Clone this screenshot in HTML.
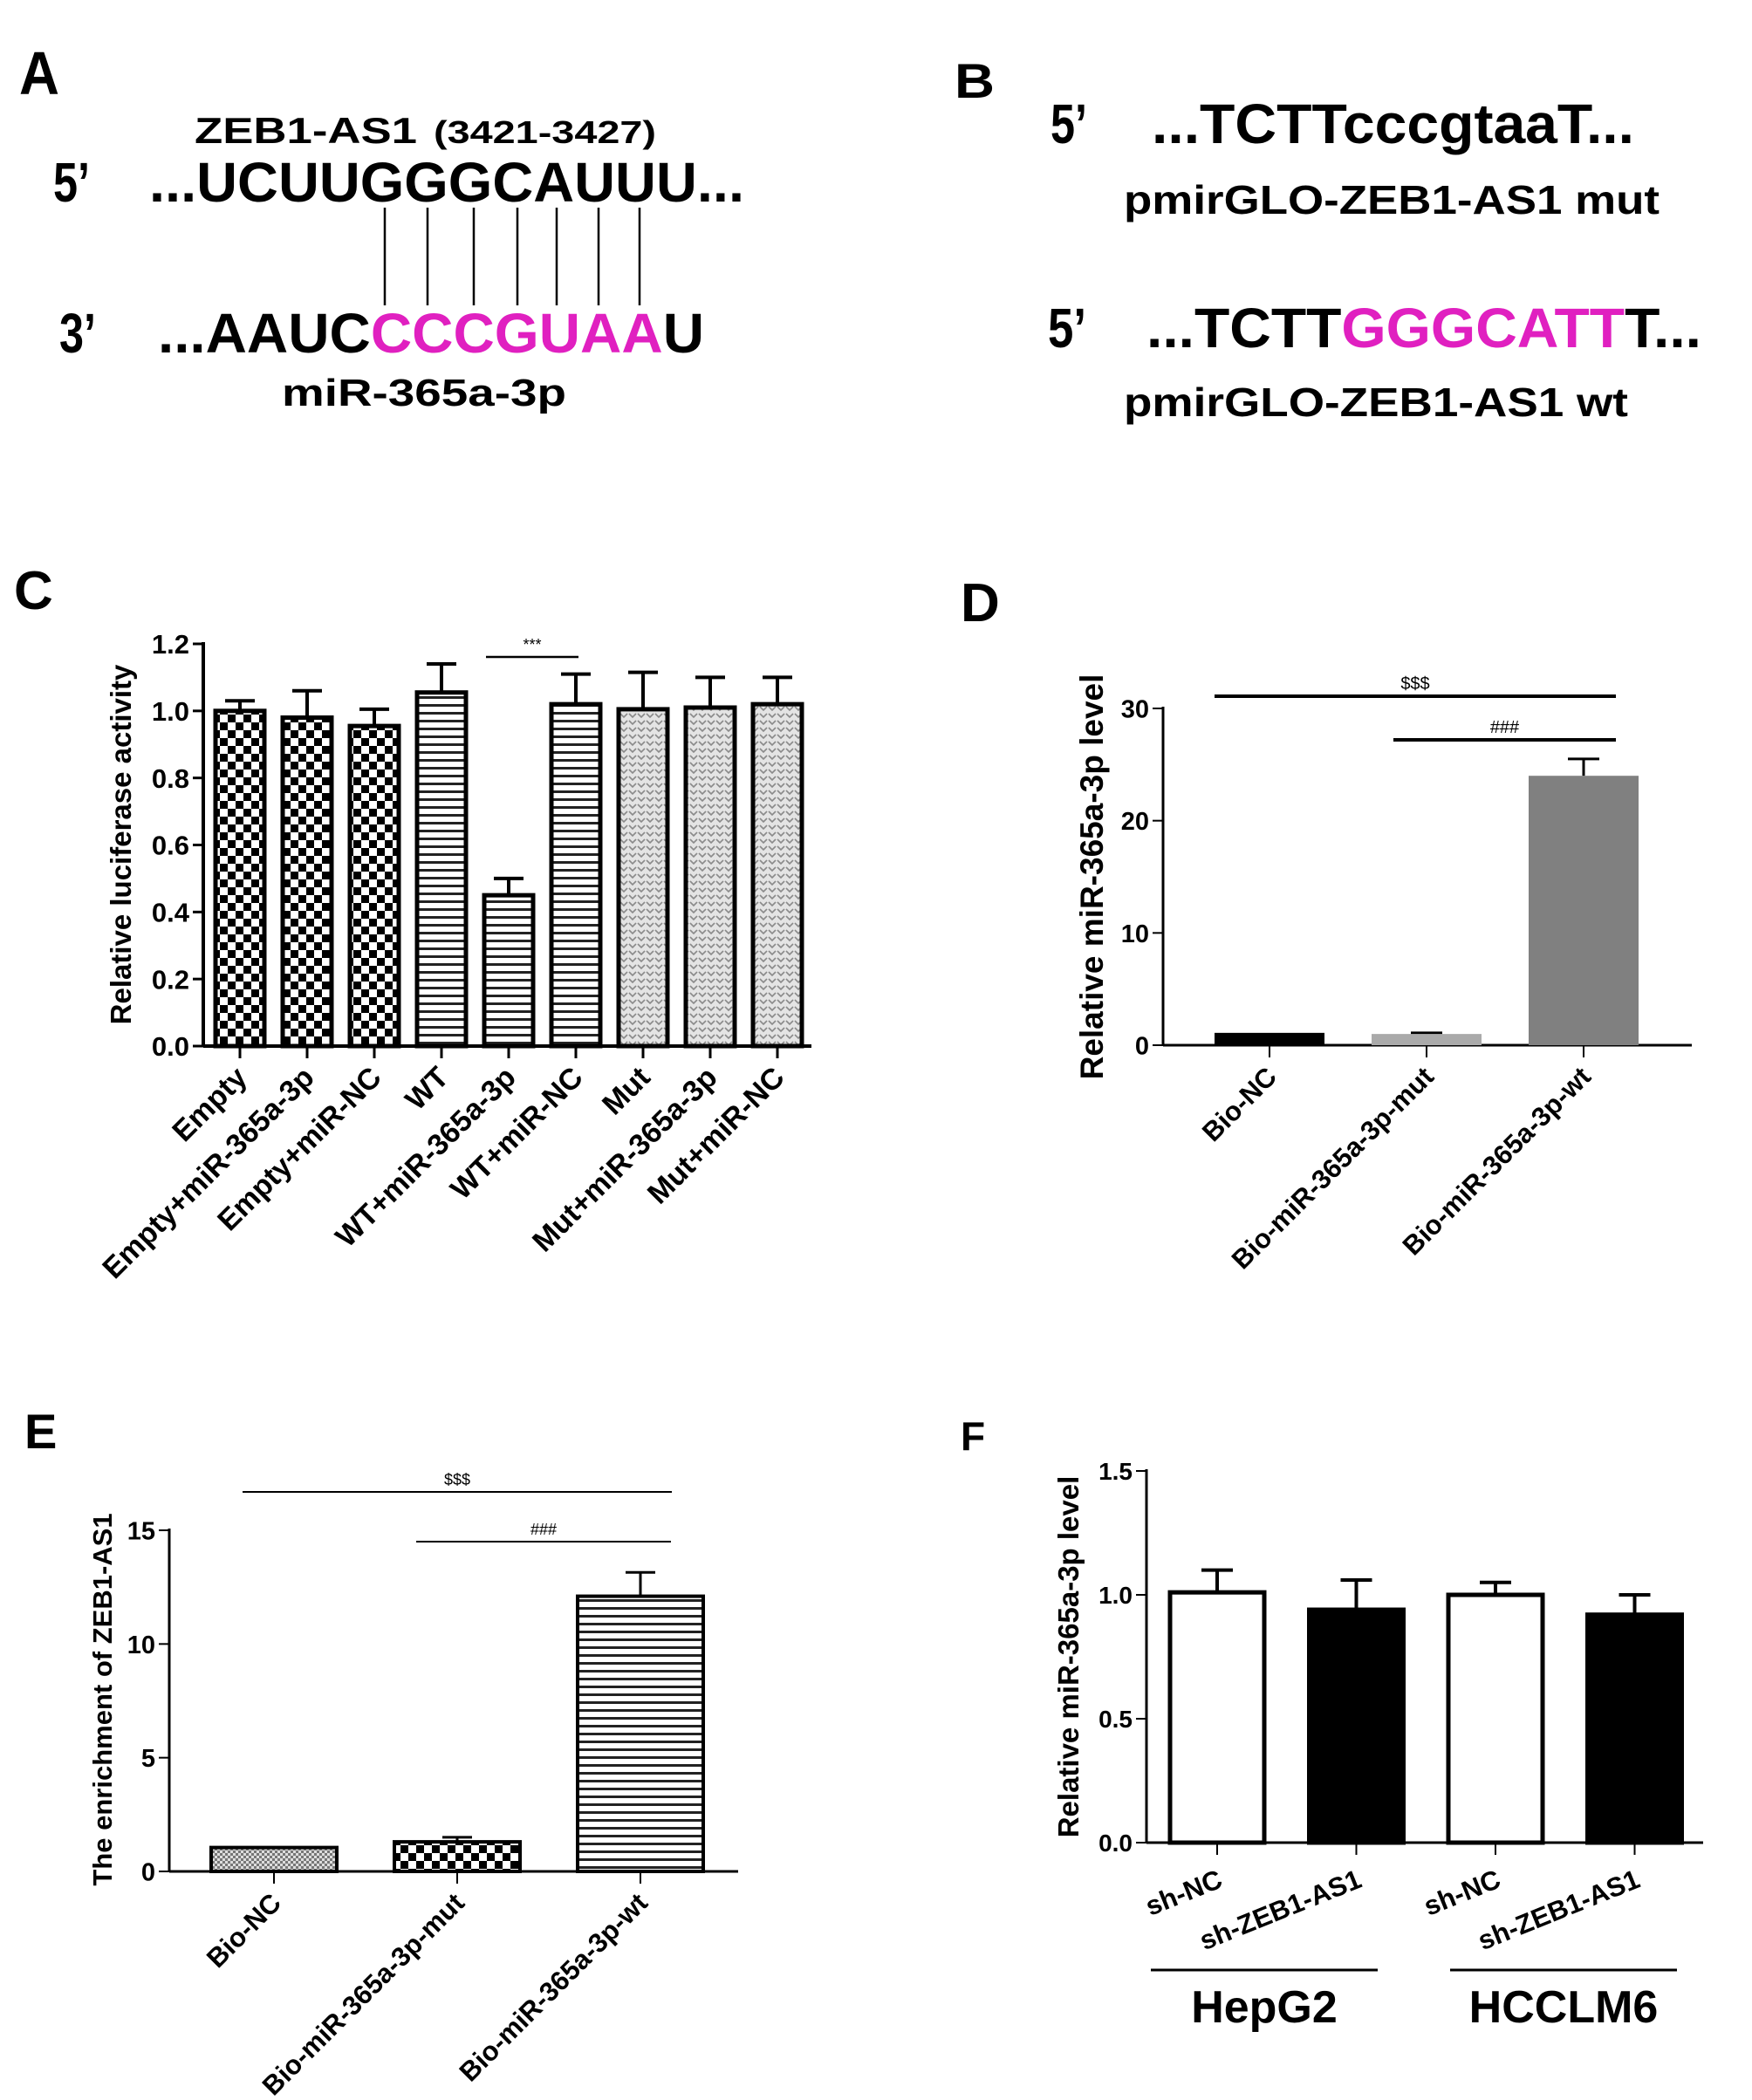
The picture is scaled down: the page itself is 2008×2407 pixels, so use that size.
<!DOCTYPE html>
<html><head><meta charset="utf-8"><style>
html,body{margin:0;padding:0;background:#fff;}
svg{display:block;font-family:"Liberation Sans",Arial,sans-serif;font-weight:bold;}
</style></head><body>
<svg id="fig" width="2008" height="2407" viewBox="0 0 2008 2407" xmlns="http://www.w3.org/2000/svg">
<defs>
<pattern id="checker" width="18" height="18" patternUnits="userSpaceOnUse"><rect width="18" height="18" fill="#fff"/><rect width="9" height="9" fill="#000"/><rect x="9" y="9" width="9" height="9" fill="#000"/></pattern>
<pattern id="hlines" width="9" height="9" patternUnits="userSpaceOnUse"><rect width="9" height="9" fill="#fff"/><rect y="6" width="9" height="3" fill="#222"/></pattern>
<pattern id="dots" width="10" height="8" patternUnits="userSpaceOnUse"><rect width="10" height="8" fill="#e4e4e4"/><path d="M1 2 L5 6 L9 2" stroke="#8a8a8a" stroke-width="1.6" fill="none"/></pattern>
<pattern id="fine" width="6" height="6" patternUnits="userSpaceOnUse"><rect width="6" height="6" fill="#ddd"/><rect width="3" height="3" fill="#777"/><rect x="3" y="3" width="3" height="3" fill="#777"/></pattern>
</defs>

<g>
<text x="22" y="108" font-size="70" textLength="46" lengthAdjust="spacingAndGlyphs">A</text>
<text x="223" y="164" font-size="42" textLength="255" lengthAdjust="spacingAndGlyphs">ZEB1-AS1</text>
<text x="497" y="164" font-size="36" textLength="255" lengthAdjust="spacingAndGlyphs">(3421-3427)</text>
<text x="61" y="231" font-size="64" textLength="42" lengthAdjust="spacingAndGlyphs">5’</text>
<text x="171" y="231" font-size="64" textLength="682" lengthAdjust="spacingAndGlyphs">...UCUUGGGCAUUU...</text>
<g stroke="#000" stroke-width="2.5">
<line x1="441" y1="238" x2="441" y2="350"/><line x1="490" y1="238" x2="490" y2="350"/><line x1="543" y1="238" x2="543" y2="350"/><line x1="593" y1="238" x2="593" y2="350"/><line x1="638" y1="238" x2="638" y2="350"/><line x1="686" y1="238" x2="686" y2="350"/><line x1="733" y1="238" x2="733" y2="350"/>
</g>
<text x="68" y="404" font-size="64" textLength="42" lengthAdjust="spacingAndGlyphs">3’</text>
<text x="181" y="404" font-size="64" textLength="626" lengthAdjust="spacingAndGlyphs">...AAUC<tspan fill="#e020c0">CCCGUAA</tspan>U</text>
<text x="323" y="465" font-size="44" textLength="326" lengthAdjust="spacingAndGlyphs">miR-365a-3p</text>
</g>

<g>
<text x="1094" y="112" font-size="56" textLength="46" lengthAdjust="spacingAndGlyphs">B</text>
<text x="1204" y="164" font-size="64" textLength="42" lengthAdjust="spacingAndGlyphs">5’</text>
<text x="1320" y="164" font-size="64" textLength="553" lengthAdjust="spacingAndGlyphs">...TCTTcccgtaaT...</text>
<text x="1288" y="245" font-size="46" textLength="614" lengthAdjust="spacingAndGlyphs">pmirGLO-ZEB1-AS1 mut</text>
<text x="1201" y="398" font-size="64" textLength="44" lengthAdjust="spacingAndGlyphs">5’</text>
<text x="1314" y="398" font-size="64" textLength="636" lengthAdjust="spacingAndGlyphs">...TCTT<tspan fill="#e020c0">GGGCATT</tspan>T...</text>
<text x="1288" y="477" font-size="46" textLength="578" lengthAdjust="spacingAndGlyphs">pmirGLO-ZEB1-AS1 wt</text>
</g>

<g id="pc"></g>
<g id="pd"></g>
<g id="pe"></g>
<g id="pf"></g>
</svg>
<script>
// ---- Panel C data ----
const cCategories = ["Empty","Empty+miR-365a-3p","Empty+miR-NC","WT","WT+miR-365a-3p","WT+miR-NC","Mut","Mut+miR-365a-3p","Mut+miR-NC"];
const cValues = [1.00,0.98,0.955,1.055,0.45,1.02,1.005,1.01,1.02];
const cErrors = [0.03,0.08,0.05,0.085,0.05,0.09,0.11,0.09,0.08];
const cFills = ["checker","checker","checker","hlines","hlines","hlines","dots","dots","dots"];
const cTicks = [0,0.2,0.4,0.6,0.8,1.0,1.2];
const cTickLabels = ["0.0","0.2","0.4","0.6","0.8","1.0","1.2"];
// ---- Panel D data ----
const dCategories = ["Bio-NC","Bio-miR-365a-3p-mut","Bio-miR-365a-3p-wt"];
const dValues = [1.1,1.0,24.0];
const dErrors = [0,0.1,1.5];
const dFills = ["#000","#aaa","#808080"];
const dTicks = [0,10,20,30];
// ---- Panel E data ----
const eCategories = ["Bio-NC","Bio-miR-365a-3p-mut","Bio-miR-365a-3p-wt"];
const eValues = [1.05,1.3,12.1];
const eErrors = [0,0.2,1.05];
const eFills = ["fine","checker","hlines"];
const eTicks = [0,5,10,15];
// ---- Panel F data ----
const fCategories = ["sh-NC","sh-ZEB1-AS1","sh-NC","sh-ZEB1-AS1"];
const fValues = [1.01,0.94,1.00,0.92];
const fErrors = [0.09,0.12,0.05,0.08];
const fFills = ["#fff","#000","#fff","#000"];
const fTicks = [0,0.5,1.0,1.5];
const fTickLabels = ["0.0","0.5","1.0","1.5"];
const fGroups = ["HepG2","HCCLM6"];

const NS="http://www.w3.org/2000/svg";
function mk(parent,tag,attrs,text){const e=document.createElementNS(NS,tag);for(const k in attrs)e.setAttribute(k,attrs[k]);if(text!==undefined)e.textContent=text;parent.appendChild(e);return e;}

function chart(g,o){
  const y=v=>o.y0-(v-o.vmin)/(o.vmax-o.vmin)*(o.y0-o.y1);
  const xs=i=>o.x0c+i*o.step;
  let ax=mk(g,'line',{x1:o.ax,y1:y(o.vmax)-2,x2:o.ax,y2:o.y0,stroke:'#000','stroke-width':o.aw});
  
  
  let bx=mk(g,'line',{x1:o.ax,y1:o.y0,x2:o.axEnd,y2:o.y0,stroke:'#000','stroke-width':o.aw});
  
  
  o.ticks.forEach((t,i)=>{
    const ty=y(t);
    mk(g,'line',{x1:o.ax-12,y1:ty,x2:o.ax,y2:ty,stroke:'#000','stroke-width':o.aw-1});
    const tl=mk(g,'text',{x:o.ax-16,y:ty+o.tf*0.36,'font-size':o.tf,'text-anchor':'end'},o.tickLabels?o.tickLabels[i]:String(t));
    
    
  });
  o.values.forEach((v,i)=>{
    const cx=xs(i),top=y(v),bw=o.bw;
    const fill=o.fills[i].startsWith('#')?o.fills[i]:'url(#'+o.fills[i]+')';
    const e=o.errors[i];
    if(e>0){
      const ey=y(v+e);
      mk(g,'line',{x1:cx,y1:top,x2:cx,y2:ey,stroke:'#000','stroke-width':o.ew});
      mk(g,'line',{x1:cx-o.cap/2,y1:ey,x2:cx+o.cap/2,y2:ey,stroke:'#000','stroke-width':o.ew});
    }
    const r=mk(g,'rect',{x:cx-bw/2,y:top,width:bw,height:o.y0-top,fill:fill,stroke:o.stroke===false?'none':'#000','stroke-width':o.sw});
    
    
    mk(g,'line',{x1:cx,y1:o.y0,x2:cx,y2:o.y0+14,stroke:'#000','stroke-width':o.aw-1});
    const lx=cx+o.lx,ly=o.y0+o.ly;
    const lab=mk(g,'text',{x:lx,y:ly,'font-size':o.xf,'text-anchor':'end',transform:'rotate('+o.rot+' '+lx+' '+ly+')'},o.cats[i]);
    
    
  });
  const tx=o.titleX,tyc=o.titleY;
  const tt=mk(g,'text',{x:tx,y:tyc,'font-size':o.titleF,'text-anchor':'middle',transform:'rotate(-90 '+tx+' '+tyc+')'},o.title);
  
  
  return {y,xs};
}
function label(g,txt,x,yy,fs,name){const t=mk(g,'text',{x:x,y:yy,'font-size':fs},txt);}
function sig(g,x1,x2,yy,txt,w,fs,name){mk(g,'line',{x1:x1,y1:yy,x2:x2,y2:yy,stroke:'#000','stroke-width':w});const t=mk(g,'text',{x:(x1+x2)/2,y:yy-8,'font-size':fs,'text-anchor':'middle','font-weight':'normal'},txt);}

// C
const gc=document.getElementById('pc');
label(gc,'C',16,698,62,'panel-c-label');
chart(gc,{id:'c',vmin:0,vmax:1.2,y0:1199,y1:738,ax:233,axEnd:930,aw:4,x0c:275,step:77,bw:56,sw:5,ew:4,cap:34,
  values:cValues,errors:cErrors,fills:cFills,cats:cCategories,ticks:cTicks,tickLabels:cTickLabels,tf:31,xf:34,rot:-45,lx:10,ly:38,
  title:'Relative luciferase activity',titleX:150,titleY:968,titleF:33});
sig(gc,557,663,753,'***',2.5,18,'c-significance');

// D
const gd=document.getElementById('pd');
label(gd,'D',1101,712,62,'panel-d-label');
chart(gd,{id:'d',vmin:0,vmax:30,y0:1198,y1:812,ax:1333,axEnd:1939,aw:3,x0c:1455,step:180,bw:126,sw:0,stroke:false,ew:3,cap:36,
  values:dValues,errors:dErrors,fills:dFills,cats:dCategories,ticks:dTicks,tf:29,xf:31,rot:-45,lx:10,ly:38,
  title:'Relative miR-365a-3p level',titleX:1264,titleY:1005,titleF:37});
sig(gd,1392,1852,798,'$$$',4,20,'d-sig-sss');
sig(gd,1597,1852,848,'###',4,20,'d-sig-hash');

// E
const ge=document.getElementById('pe');
label(ge,'E',28,1660,56,'panel-e-label');
chart(ge,{id:'e',vmin:0,vmax:15,y0:2145,y1:1754,ax:194,axEnd:846,aw:3,x0c:314,step:210,bw:144,sw:4,ew:3,cap:34,
  values:eValues,errors:eErrors,fills:eFills,cats:eCategories,ticks:eTicks,tf:29,xf:31,rot:-45,lx:10,ly:38,
  title:'The enrichment of ZEB1-AS1',titleX:128,titleY:1948,titleF:31});
sig(ge,278,770,1710,'$$$',2,18,'e-sig-sss');
sig(ge,477,769,1767,'###',2,18,'e-sig-hash');

// F
const gf=document.getElementById('pf');
label(gf,'F',1101,1662,46,'panel-f-label');
chart(gf,{id:'f',vmin:0,vmax:1.5,y0:2112,y1:1686,ax:1314,axEnd:1952,aw:3,x0c:1395,step:159.5,bw:108,sw:5,ew:4,cap:36,
  values:fValues,errors:fErrors,fills:fFills,cats:fCategories,ticks:fTicks,tickLabels:fTickLabels,tf:28,xf:31,rot:-22,lx:8,ly:50,
  title:'Relative miR-365a-3p level',titleX:1236,titleY:1899,titleF:33});
fGroups.forEach((gname,i)=>{
  const x1=1319+i*343,x2=x1+260;
  mk(gf,'line',{x1:x1,y1:2258,x2:x2,y2:2258,stroke:'#000','stroke-width':3});
  const t=mk(gf,'text',{x:(x1+x2)/2,y:2318,'font-size':52,'text-anchor':'middle'},gname);
  
  
});
</script>
</body></html>
